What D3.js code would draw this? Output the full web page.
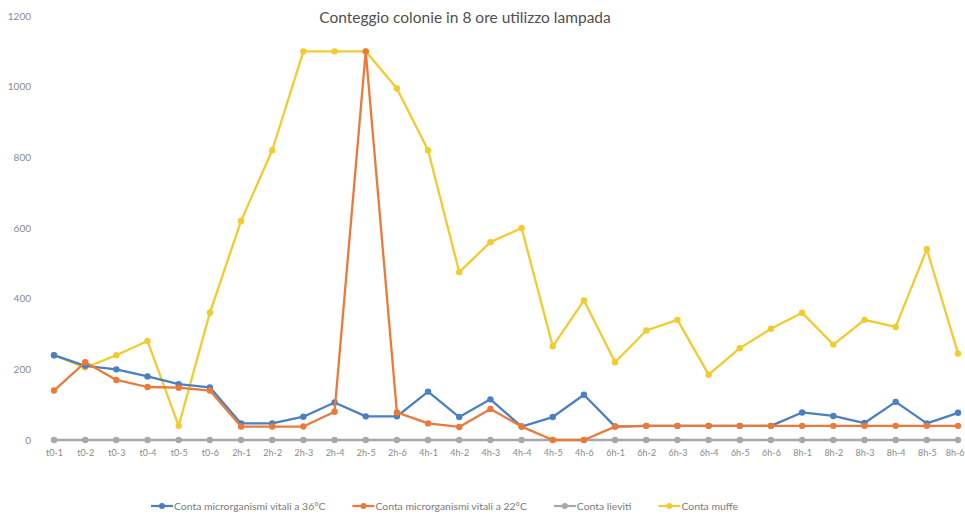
<!DOCTYPE html>
<html><head><meta charset="utf-8">
<script src="https://cdn.jsdelivr.net/npm/d3@7"></script>
<style>body{margin:0;background:#fff}svg{display:block}</style>
</head><body>
<svg id="c" width="965" height="515"></svg>
<script>
const categories = ["t0-1","t0-2","t0-3","t0-4","t0-5","t0-6",
  "2h-1","2h-2","2h-3","2h-4","2h-5","2h-6",
  "4h-1","4h-2","4h-3","4h-4","4h-5","4h-6",
  "6h-1","6h-2","6h-3","6h-4","6h-5","6h-6",
  "8h-1","8h-2","8h-3","8h-4","8h-5","8h-6"];
const seriesNames = ["Conta microrganismi vitali a 36°C","Conta microrganismi vitali a 22°C","Conta lieviti","Conta muffe"];
const vitali36 = [240,210,200,180,158,149, 47,47,66,106,67,67, 137,65,115,38,65,128, 38,40,40,40,40,40, 78,68,48,108,47,77];
const vitali22 = [140,220,170,150,148,140, 38,38,38,80,1100,78, 47,37,88,38,0,0, 38,40,40,40,40,40, 40,40,40,40,40,40];
const lieviti  = [0,0,0,0,0,0, 0,0,0,0,0,0, 0,0,0,0,0,0, 0,0,0,0,0,0, 0,0,0,0,0,0];
const muffe    = [240,205,240,280,40,360, 620,820,1100,1100,1100,995, 820,475,560,600,265,395, 220,310,340,185,260,315, 360,270,340,320,540,245];
const yTicks = [0,200,400,600,800,1000,1200];
const title = "Conteggio colonie in 8 ore utilizzo lampada";

const colors = ["#4B7FC4","#EB7A3A","#A8A8A8","#F2CB2E"];
const seriesData = [vitali36, vitali22, lieviti, muffe];
const font = "Lato, 'Open Sans', sans-serif";

const svg = d3.select("#c");
const x = d3.scalePoint().domain(categories).range([54, 958]);
const y = d3.scaleLinear().domain([0,1200]).range([440, 16]);

// title
svg.append("text").attr("x", 465).attr("y", 23).attr("text-anchor","middle")
  .attr("font-family", font).attr("font-size", 15.5).attr("fill","#505050").text(title);

// y axis (labels only)
const ya = svg.append("g").attr("transform","translate(31,0)")
  .call(d3.axisLeft(y).tickValues(yTicks).tickFormat(d3.format("d")).tickSize(0).tickPadding(0));
ya.select(".domain").remove();
ya.selectAll("text").attr("font-family", font).attr("font-size", 10).attr("fill","#8a8a8a");

// x axis (labels only)
const xa = svg.append("g").attr("transform","translate(0,450)")
  .call(d3.axisBottom(x).tickSize(0).tickPadding(0));
xa.select(".domain").remove();
xa.selectAll("text").attr("font-family", font).attr("font-size", 9).attr("fill","#8a8a8a");
xa.selectAll(".tick").filter((d,i,n)=>i===n.length-1).select("text")
  .attr("text-anchor","end").attr("dx", 6);

// series
const line = d3.line().x((d,i)=>x(categories[i])).y(d=>y(d));
const order = [2,3,0,1];
order.forEach(si => {
  const g = svg.append("g");
  g.append("path").datum(seriesData[si]).attr("d", line)
    .attr("fill","none").attr("stroke", colors[si]).attr("stroke-width", 2.3)
    .attr("stroke-linejoin","round");
  g.selectAll("circle").data(seriesData[si]).join("circle")
    .attr("cx",(d,i)=>x(categories[i])).attr("cy", d=>y(d)).attr("r", 3.2)
    .attr("fill", colors[si]);
});

// legend
const leg = svg.append("g").attr("transform","translate(151,506)");
let lx = 0;
seriesNames.forEach((name, si) => {
  const it = leg.append("g").attr("transform",`translate(${lx},0)`);
  it.append("line").attr("x1",0).attr("x2",22).attr("y1",0).attr("y2",0)
    .attr("stroke", colors[si]).attr("stroke-width",2.2);
  it.append("circle").attr("cx",11).attr("cy",0).attr("r",3).attr("fill",colors[si]);
  const t = it.append("text").attr("x",23).attr("y",3.5).attr("font-family",font)
    .attr("font-size",10.4).attr("fill","#7a7a7a").text(name);
  lx += 23 + t.node().getComputedTextLength() + 27;
});
</script>
</body></html>
